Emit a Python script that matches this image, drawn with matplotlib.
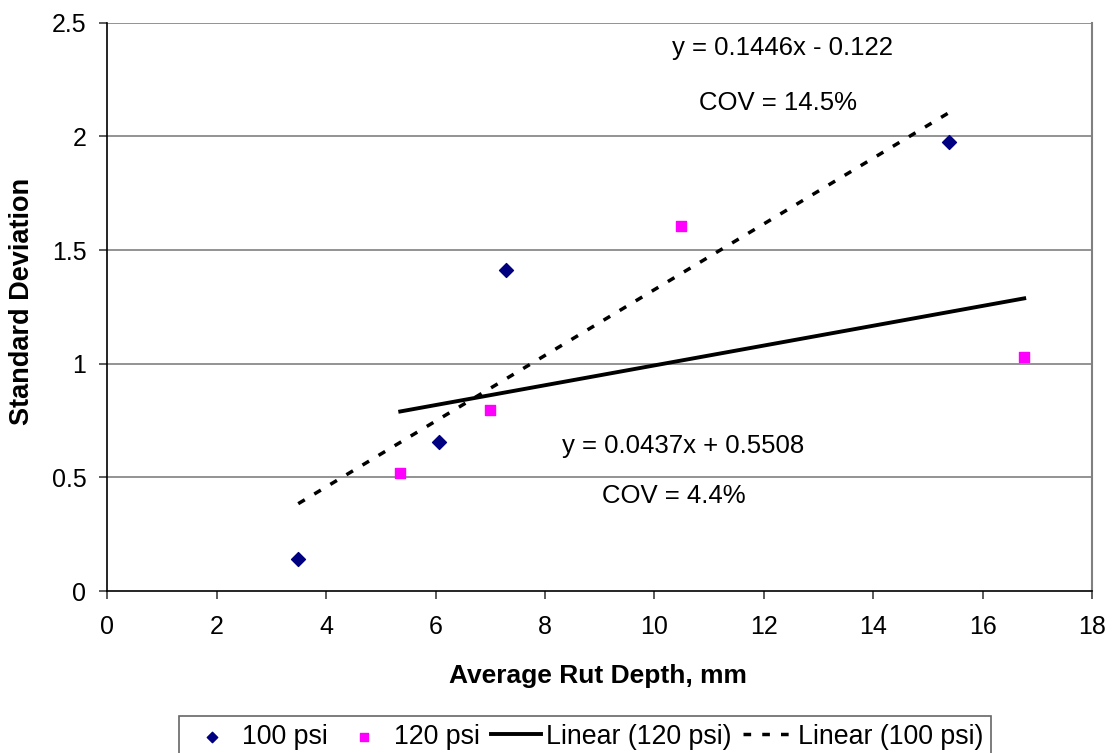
import numpy as np
import matplotlib.pyplot as plt

plt.rcParams['font.family'] = ['Liberation Sans', 'DejaVu Sans']

# data
depth100 = [3.49, 6.07, 7.29, 15.39]
sd100 = [0.14, 0.655, 1.41, 1.975]
depth120 = [5.355, 6.99, 10.49, 16.76]
sd120 = [0.52, 0.796, 1.606, 1.03]

xticks = [0, 2, 4, 6, 8, 10, 12, 14, 16, 18]
yticks = [0, 0.5, 1, 1.5, 2, 2.5]
ytickLabels = ['0', '0.5', '1', '1.5', '2', '2.5']


def trendLine(xs, ys):
    k, b = np.polyfit(xs, ys, 1)
    xLine = np.array([min(xs), max(xs)])
    return xLine, k * xLine + b


def main():
    fig = plt.figure(figsize=(11.14, 7.53), dpi=100)
    ax = fig.add_axes([0.0963, 0.2151, 0.884, 0.7548])

    for y in yticks[1:]:
        ax.axhline(y=y, color='#808080', lw=1.2, zorder=0)

    ax.scatter(depth100, sd100, marker='D', s=50, color='#000080', label='100 psi', zorder=3)
    ax.scatter(depth120, sd120, marker='s', s=60, color='#ff00ff', label='120 psi', zorder=3)

    x120, y120 = trendLine(depth120, sd120)
    ax.plot(x120, y120, 'k', lw=2.8, label='Linear (120 psi)', zorder=2)
    x100, y100 = trendLine(depth100, sd100)
    ax.plot(x100, y100, 'k', lw=2.5, ls=(0, (2.2, 3.2)), label='Linear (100 psi)', zorder=2)

    ax.set_xlim(0, 18)
    ax.set_ylim(0, 2.5)
    ax.set_xticks(xticks)
    ax.set_yticks(yticks)
    ax.set_xticklabels([str(t) for t in xticks])
    ax.set_yticklabels(ytickLabels)
    ax.tick_params(labelsize=18, length=6, width=1.2, color='#404040')
    ax.tick_params(axis='x', pad=11)
    ax.tick_params(axis='y', pad=9)

    ax.spines['top'].set_visible(False)
    ax.spines['right'].set_color('#808080')
    ax.spines['right'].set_linewidth(1.5)
    ax.spines['left'].set_linewidth(1.2)
    ax.spines['bottom'].set_linewidth(1.2)

    ax.set_xlabel('Average Rut Depth, mm', fontsize=19, fontweight='bold')
    ax.set_ylabel('Standard Deviation', fontsize=19.5, fontweight='bold')
    ax.xaxis.set_label_coords(0.498, -0.1496)
    ax.yaxis.set_label_coords(-0.0866, 0.509)
    ax.xaxis.label.set_va('center')
    ax.yaxis.label.set_va('center')

    ax.text(12.35, 2.39, 'y = 0.1446x - 0.122', fontsize=18.5, ha='center', va='center')
    ax.text(12.26, 2.147, 'COV = 14.5%', fontsize=18.5, ha='center', va='center')
    ax.text(10.52, 0.638, 'y = 0.0437x + 0.5508', fontsize=18.5, ha='center', va='center')
    ax.text(10.36, 0.418, 'COV = 4.4%', fontsize=18.5, ha='center', va='center')

    leg = fig.legend(loc='upper left', bbox_to_anchor=(0.1607, 0.0495), ncol=4, fontsize=19.3,
                     frameon=True, fancybox=False, edgecolor='#404040', handlelength=1.85,
                     handletextpad=0.2, columnspacing=0.42, borderpad=0.3, markerscale=0.75,
                     borderaxespad=0)
    leg.get_frame().set_linewidth(1.2)

    fig.savefig('out.png', dpi=100)


if __name__ == '__main__':
    main()
